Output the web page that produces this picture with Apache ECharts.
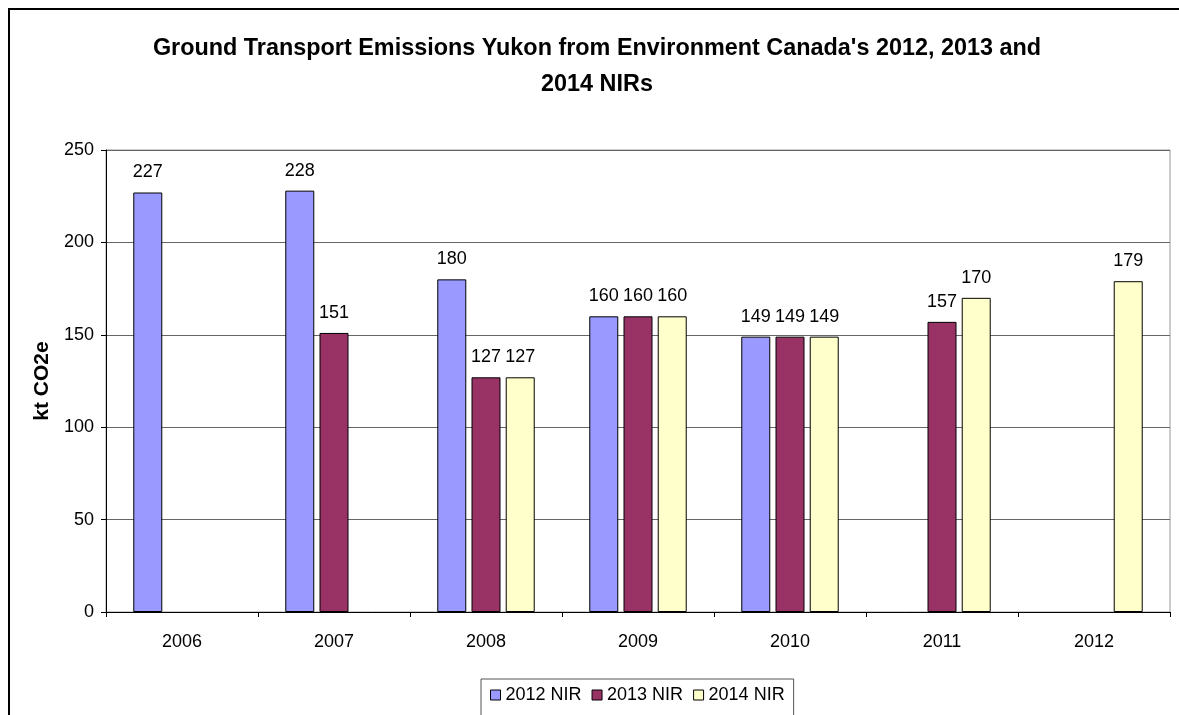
<!DOCTYPE html>
<html><head><meta charset="utf-8">
<script src="https://cdn.jsdelivr.net/npm/echarts@6/dist/echarts.min.js"></script>
<style>html,body{margin:0;padding:0;background:#fff}#c{width:1179px;height:715px}</style>
</head><body><div id="c"></div>
<script>
const categories = ['2006','2007','2008','2009','2010','2011','2012'];
const nir2012 = [227, 228, 180, 160, 149, null, null];
const nir2013 = [null, 151, 127, 160, 149, 157, null];
const nir2014 = [null, null, 127, 160, 149, 170, 179];
const seriesNames = ['2012 NIR', '2013 NIR', '2014 NIR'];
const titleText = "Ground Transport Emissions Yukon from Environment Canada's 2012, 2013 and\n2014 NIRs";
const colors = ['#9999FF', '#993366', '#FFFFCC'];
const FONT = 'Liberation Sans, Arial, sans-serif';

const chart = echarts.init(document.getElementById('c'));
const mk = (name, data, color) => ({
  name, type: 'bar', data, barWidth: 29, barGap: '18%',
  itemStyle: { color, borderColor: '#000', borderWidth: 1 },
  label: { show: true, position: 'top', distance: 11, color: '#000', fontFamily: FONT, fontSize: 18 },
  emphasis: { disabled: true }
});
chart.setOption({
  animation: false,
  textStyle: { fontFamily: FONT },
  graphic: [
    { type: 'rect', shape: { x: 9, y: 9, width: 1400, height: 900 }, style: { fill: null, stroke: '#000', lineWidth: 2 }, silent: true },
    { type: 'text', x: 597, y: 31, silent: true,
      style: { text: titleText, align: 'center', verticalAlign: 'top', fill: '#000',
               font: 'bold 23.4px ' + FONT, lineHeight: 36 } }
  ],
  legend: {
    data: seriesNames, top: 679, left: 481,
    backgroundColor: '#fff', borderColor: '#555', borderWidth: 1,
    padding: [7, 9, 20, 9], itemGap: 10, itemWidth: 10, itemHeight: 10,
    icon: 'rect',
    itemStyle: { borderColor: '#000', borderWidth: 1 },
    textStyle: { fontFamily: FONT, fontSize: 18, color: '#000' }
  },
  grid: { left: 106, right: 9, top: 150, bottom: 103, show: true, borderColor: '#999', borderWidth: 1 },
  xAxis: {
    type: 'category', data: categories,
    axisLine: { lineStyle: { color: '#000', width: 1 } },
    axisTick: { show: true, length: 5, lineStyle: { color: '#000' } },
    axisLabel: { color: '#000', fontFamily: FONT, fontSize: 18, margin: 21 }
  },
  yAxis: {
    type: 'value', min: 0, max: 250, interval: 50,
    name: 'kt CO2e', nameLocation: 'middle', nameGap: 53,
    nameTextStyle: { fontFamily: FONT, fontSize: 21, fontWeight: 'bold', color: '#000' },
    axisLine: { show: true, lineStyle: { color: '#000', width: 1 } },
    axisTick: { show: true, length: 5, lineStyle: { color: '#000' } },
    axisLabel: { color: '#000', fontFamily: FONT, fontSize: 18, margin: 12 },
    splitLine: { lineStyle: { color: '#666', width: 1 } }
  },
  series: [mk(seriesNames[0], nir2012, colors[0]), mk(seriesNames[1], nir2013, colors[1]), mk(seriesNames[2], nir2014, colors[2])]
});
</script></body></html>
